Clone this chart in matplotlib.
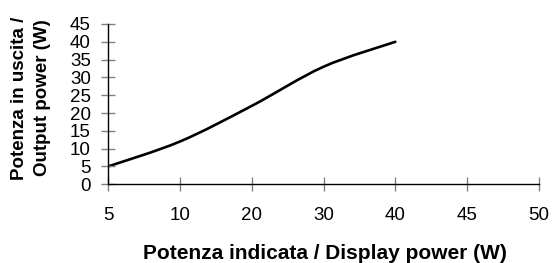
import numpy as np
import matplotlib
matplotlib.use("Agg")
from matplotlib import pyplot as plt
from matplotlib.path import Path
from matplotlib.patches import PathPatch

plt.rcParams['font.family'] = ['Liberation Sans', 'DejaVu Sans']

# dati
tick_labels = ['5', '10', '20', '30', '40', '45', '50']
display_power = [5, 10, 20, 30, 40]
output_power = [5, 12, 22, 33, 40]

# posizioni categoriali (come in Excel)
xs = np.array([tick_labels.index(str(v)) for v in display_power], dtype=float)
ys = np.array(output_power, dtype=float)

W, H = 553, 263
fig = plt.figure(figsize=(W / 100, H / 100), dpi=100)
ax = fig.add_axes([108 / W, 1 - 184.3 / H, (539 - 108) / W, (184.3 - 24) / H])

# linea smussata: Catmull-Rom -> Bezier
pts = np.column_stack([xs, ys])
verts = [pts[0]]
codes = [Path.MOVETO]
for i in range(len(pts) - 1):
    p0 = pts[i - 1] if i > 0 else pts[i]
    p1 = pts[i]
    p2 = pts[i + 1]
    p3 = pts[i + 2] if i + 2 < len(pts) else pts[i + 1]
    c1 = p1 + (p2 - p0) / 6
    c2 = p2 - (p3 - p1) / 6
    verts += [c1, c2, p2]
    codes += [Path.CURVE4] * 3
ax.add_patch(PathPatch(Path(verts, codes), fill=False, lw=1.9, color='black',
                       capstyle='round', joinstyle='round'))

ax.set_xlim(0, len(tick_labels) - 1)
ax.set_ylim(0, 45)
ax.set_xticks(range(len(tick_labels)))
ax.set_xticklabels(tick_labels)
ax.set_yticks(range(0, 50, 5))

for s in ['top', 'right']:
    ax.spines[s].set_visible(False)
for s in ['left', 'bottom']:
    ax.spines[s].set_linewidth(1.0)
    ax.spines[s].set_color('black')

ax.tick_params(axis='both', direction='inout', length=9.5, width=1.0,
               color='#808080', labelsize=13.5)
ax.tick_params(axis='x', pad=11.5)
ax.tick_params(axis='y', pad=7.5)

# titoli degli assi
fig.text(325 / W, 1 - 259 / H, 'Potenza indicata / Display power (W)',
         fontsize=15, fontweight='bold', ha='center', va='baseline')
fig.text(31 / W, 1 - 98 / H, 'Potenza in uscita /\nOutput power (W)',
         fontsize=13.5, fontweight='bold', rotation=90, ha='center',
         va='center', multialignment='center', linespacing=1.45)

fig.savefig('out.png', dpi=100)
